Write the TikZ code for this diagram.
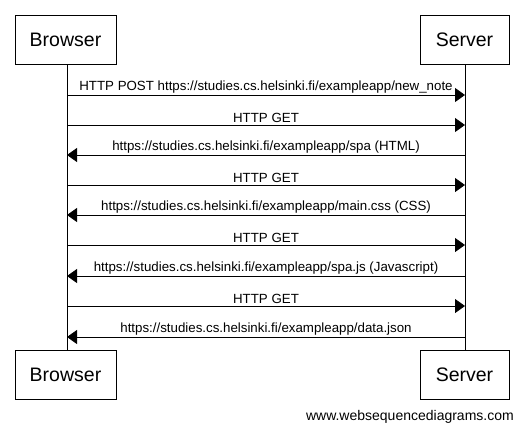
\documentclass[tikz,border=0pt]{standalone}
\usepackage{fontspec}
\setmainfont{Liberation Sans}
\usetikzlibrary{arrows.meta}
\begin{document}
\begin{tikzpicture}[x=1pt,y=-1pt,
  actor/.style={draw,line width=0.8pt,minimum height=49pt,inner sep=0pt,font=\fontsize{19.5}{22}\selectfont},
  msg/.style={line width=0.8pt,-{Triangle[length=10pt,width=14pt]}},
  lbl/.style={font=\fontsize{13.3}{15}\selectfont,inner sep=1.5pt,anchor=south}]
\useasboundingbox (0,0) rectangle (526,434);
\node[actor,minimum width=101pt] (bt) at (65.5,39.5) {Browser};
\node[actor,minimum width=89pt] (st) at (464.5,39.5) {Server};
\node[actor,minimum width=101pt] (bb) at (65.5,374.5) {Browser};
\node[actor,minimum width=89pt] (sb) at (464.5,374.5) {Server};
\draw[line width=0.8pt] (bt.south) ++(1.5,0) coordinate (bl1) -- (bl1 |- bb.north);
\draw[line width=0.8pt] (st.south) ++(0.5,0) coordinate (sl1) -- (sl1 |- sb.north);
\foreach \y/\dir/\t [count=\i] in {
 95/r/{HTTP POST https://studies.cs.helsinki.fi/exampleapp/new\_note},
 125/r/{HTTP GET},
 155/l/{https://studies.cs.helsinki.fi/exampleapp/spa (HTML)},
 185/r/{HTTP GET},
 215/l/{https://studies.cs.helsinki.fi/exampleapp/main.css (CSS)},
 245/r/{HTTP GET},
 276/l/{https://studies.cs.helsinki.fi/exampleapp/spa.js (Javascript)},
 306/r/{HTTP GET},
 337/l/{https://studies.cs.helsinki.fi/exampleapp/data.json}} {
  \coordinate (L\i) at (67,\y);
  \coordinate (R\i) at (465,\y);
  \if r\dir
    \draw[msg] (L\i) -- node[lbl] (t\i) {\t} (R\i);
  \else
    \draw[msg] (R\i) -- node[lbl] (t\i) {\t} (L\i);
  \fi
}
\node[font=\fontsize{14}{16}\selectfont,anchor=east,inner sep=0pt] (wm) at (514,417) {www.websequencediagrams.com};
\end{tikzpicture}
\end{document}
